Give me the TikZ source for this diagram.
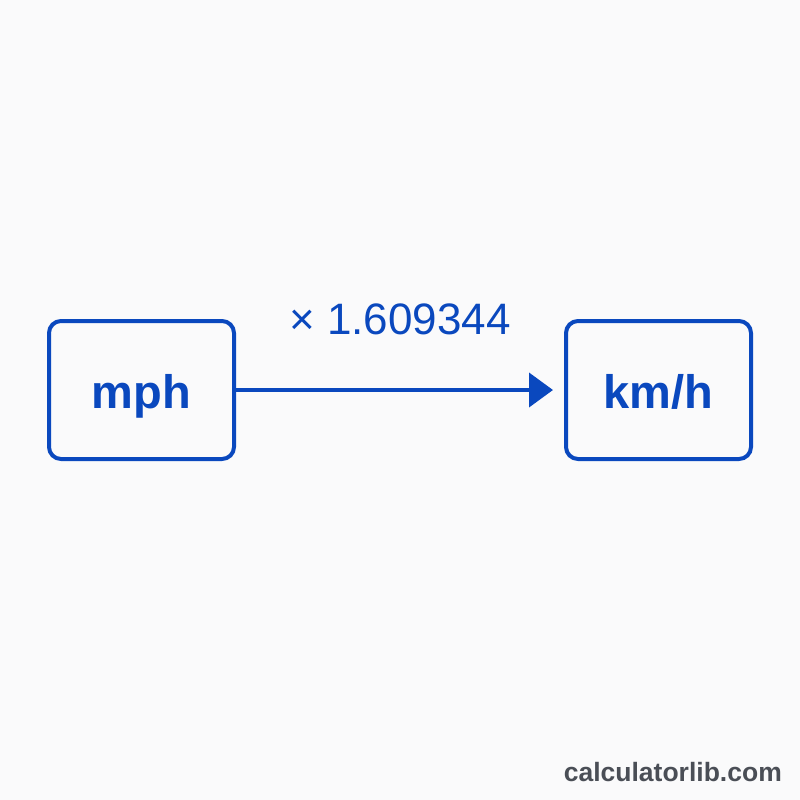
\documentclass[tikz,border=0pt]{standalone}
\usepackage{fontspec}
\setmainfont{Liberation Sans}
\usepackage{tikz}
\usetikzlibrary{
	arrows.meta,
	positioning,
}
\definecolor{unitblue}{RGB}{10,72,190}
\definecolor{markgray}{RGB}{74,78,86}
\definecolor{paper}{RGB}{250,250,251}
\tikzset{unit box/.style={
	draw=unitblue,
	rectangle,
	rounded corners=12pt,
	line width=4pt,
	minimum width=185pt,
	minimum height=138pt,
	inner sep=0pt,
	text height=36pt,
	text depth=0pt,
	text=unitblue,
	font=\fontsize{47}{50}\selectfont\bfseries,
},
factor label/.style={
	inner sep=0pt,
	text=unitblue,
	font=\fontsize{44}{48}\selectfont,
},
convert arrow/.style={
	draw=unitblue,
	line width=4pt,
	-{Triangle[length=24pt,width=34pt]},
	shorten >=11pt,
}}

\begin{document}
\begin{tikzpicture}[x=1pt,y=-1pt]
\fill[paper] (0,0) rectangle (800,800);
\useasboundingbox (0,0) rectangle (800,800);

\node[unit box](mph) at(141.5,390) {mph};
\node[unit box](kmh) at(658.5,390) {km/h};

\draw[convert arrow] (mph.east) -- (kmh.west);

\node[factor label, anchor=base](factor) at(400,334) {× 1.609344};

\node[anchor=base east, inner sep=0pt, text=markgray,
	font=\fontsize{26.5}{28}\selectfont\bfseries](site) at(782,781) {calculatorlib.com};
\end{tikzpicture}
\end{document}
